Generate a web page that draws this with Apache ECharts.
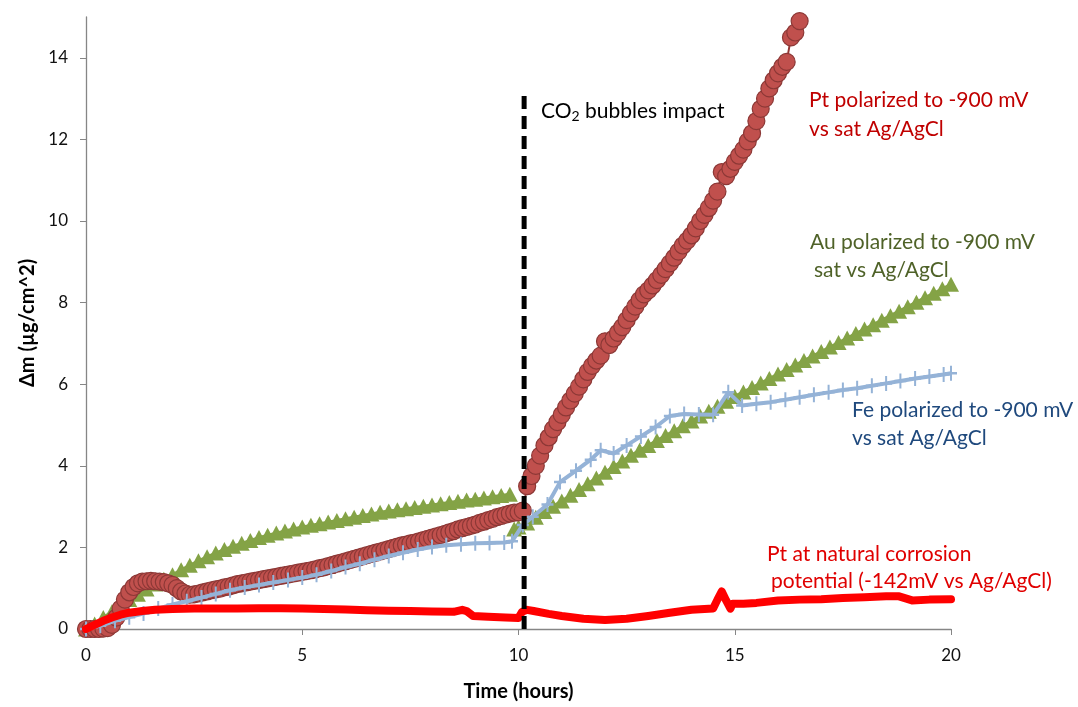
<!DOCTYPE html>
<html>
<head>
<meta charset="utf-8">
<script src="https://cdn.jsdelivr.net/npm/echarts@6/dist/echarts.min.js"></script>
<style>
  html, body { margin: 0; padding: 0; background: #ffffff; }
  #chart { width: 1078px; height: 707px; }
</style>
</head>
<body>
<div id="chart"></div>
<script>
// Mass change (µg/cm^2) against time (hours), [time, Δm] pairs

// Pt polarized to -900 mV (circles)
const ptPolarized = [
  [0.0,0.0],[0.1,0.0],[0.2,0.0],[0.3,0.0],[0.4,0.01],[0.5,0.02],[0.6,0.1],[0.7,0.28],[0.8,0.5],[0.9,0.72],
  [1.0,0.9],[1.1,1.03],[1.2,1.12],[1.3,1.16],[1.4,1.17],[1.5,1.18],[1.6,1.17],[1.7,1.16],[1.8,1.15],[1.9,1.12],
  [2.0,1.08],[2.1,1.0],[2.2,0.92],[2.3,0.87],[2.4,0.84],[2.5,0.85],[2.6,0.87],[2.7,0.9],[2.8,0.92],[2.9,0.95],
  [3.0,0.97],[3.1,0.99],[3.2,1.02],[3.3,1.04],[3.4,1.07],[3.5,1.1],[3.6,1.12],[3.7,1.14],[3.8,1.16],[3.9,1.18],
  [4.0,1.2],[4.1,1.22],[4.2,1.24],[4.3,1.26],[4.4,1.28],[4.5,1.3],[4.6,1.32],[4.7,1.34],[4.8,1.36],[4.9,1.38],
  [5.0,1.4],[5.1,1.42],[5.2,1.44],[5.3,1.46],[5.4,1.49],[5.5,1.51],[5.6,1.54],[5.7,1.57],[5.8,1.6],[5.9,1.63],
  [6.0,1.66],[6.1,1.69],[6.2,1.72],[6.3,1.75],[6.4,1.78],[6.5,1.81],[6.6,1.84],[6.7,1.87],[6.8,1.9],[6.9,1.93],
  [7.0,1.96],[7.1,1.99],[7.2,2.02],[7.3,2.05],[7.4,2.07],[7.5,2.1],[7.6,2.12],[7.7,2.15],[7.8,2.18],[7.9,2.21],
  [8.0,2.24],[8.1,2.27],[8.2,2.3],[8.3,2.33],[8.4,2.37],[8.5,2.4],[8.6,2.44],[8.7,2.47],[8.8,2.5],[8.9,2.53],
  [9.0,2.56],[9.1,2.6],[9.2,2.63],[9.3,2.67],[9.4,2.7],[9.5,2.74],[9.6,2.77],[9.7,2.8],[9.8,2.83],[9.9,2.85],
  [10.0,2.86],[10.1,2.9],
  [10.2,3.5],[10.3,3.75],[10.4,4.0],[10.5,4.25],[10.6,4.5],[10.7,4.7],[10.8,4.9],[10.9,5.07],[11.0,5.25],
  [11.1,5.43],[11.2,5.6],[11.3,5.77],[11.4,5.94],[11.5,6.12],[11.6,6.3],[11.7,6.45],[11.8,6.58],[11.9,6.7],
  [12.0,7.05],[12.1,6.96],[12.2,7.12],[12.3,7.26],[12.4,7.4],[12.5,7.57],[12.6,7.74],[12.7,7.9],[12.8,8.06],
  [12.9,8.2],[13.0,8.3],[13.1,8.42],[13.2,8.55],[13.3,8.68],[13.4,8.82],[13.5,8.96],[13.6,9.1],[13.7,9.25],
  [13.8,9.4],[13.9,9.52],[14.0,9.65],[14.1,9.82],[14.2,10.0],[14.3,10.15],[14.4,10.32],[14.5,10.5],[14.6,10.72],
  [14.7,11.2],[14.8,11.1],[14.9,11.28],[15.0,11.45],[15.1,11.6],[15.2,11.75],[15.3,11.95],[15.4,12.15],
  [15.5,12.45],[15.6,12.75],[15.7,13.0],[15.8,13.25],[15.9,13.45],[16.0,13.62],[16.1,13.78],[16.2,13.9],
  [16.3,14.5],[16.4,14.62],[16.5,14.9]
];

// Au polarized to -900 mV (triangles), before and after the bubble event
const auPolarizedA = [
  [0.0,0.0],[0.2,0.12],[0.4,0.28],[0.6,0.42],[0.8,0.58],[1.0,0.72],[1.2,0.85],[1.4,0.98],[1.6,1.1],[1.8,1.22],
  [2.0,1.33],[2.2,1.45],[2.4,1.56],[2.6,1.67],[2.8,1.77],[3.0,1.86],[3.2,1.95],[3.4,2.03],[3.6,2.1],[3.8,2.17],
  [4.0,2.24],[4.2,2.3],[4.4,2.35],[4.6,2.4],[4.8,2.45],[5.0,2.5],[5.2,2.54],[5.4,2.58],[5.6,2.62],[5.8,2.66],
  [6.0,2.7],[6.2,2.74],[6.4,2.78],[6.6,2.82],[6.8,2.86],[7.0,2.89],[7.2,2.92],[7.4,2.95],[7.6,2.98],[7.8,3.01],
  [8.0,3.04],[8.2,3.07],[8.4,3.1],[8.6,3.13],[8.8,3.16],[9.0,3.18],[9.2,3.21],[9.4,3.24],[9.6,3.27],[9.8,3.3]
];
const auPolarizedB = [
  [9.9,2.45],[10.0,2.5],[10.2,2.6],[10.4,2.74],[10.6,2.88],[10.8,3.01],[11.0,3.14],[11.2,3.28],[11.4,3.42],
  [11.6,3.56],[11.8,3.7],[12.0,3.84],[12.2,3.98],[12.4,4.12],[12.6,4.26],[12.8,4.38],[13.0,4.5],[13.2,4.62],
  [13.4,4.74],[13.6,4.86],[13.8,4.98],[14.0,5.1],[14.2,5.22],[14.4,5.34],[14.6,5.46],[14.8,5.58],[15.0,5.7],
  [15.2,5.81],[15.4,5.92],[15.6,6.03],[15.8,6.14],[16.0,6.25],[16.2,6.36],[16.4,6.47],[16.6,6.58],[16.8,6.69],
  [17.0,6.8],[17.2,6.91],[17.4,7.02],[17.6,7.13],[17.8,7.24],[18.0,7.35],[18.2,7.46],[18.4,7.57],[18.6,7.68],
  [18.8,7.79],[19.0,7.9],[19.2,8.01],[19.4,8.12],[19.6,8.23],[19.8,8.34],[20.0,8.45]
];

// Fe polarized to -900 mV (line with + markers)
const fePolarized = [
  [0.0,0.0],[0.33,0.08],[0.67,0.2],[1.0,0.29],[1.33,0.38],[1.67,0.5],[2.0,0.6],[2.33,0.68],[2.67,0.77],
  [3.0,0.86],[3.33,0.95],[3.67,1.02],[4.0,1.08],[4.33,1.14],[4.67,1.2],[5.0,1.26],[5.33,1.33],[5.67,1.42],
  [6.0,1.52],[6.33,1.6],[6.67,1.7],[7.0,1.79],[7.33,1.87],[7.67,1.95],[8.0,2.01],[8.33,2.05],[8.67,2.08],
  [9.0,2.1],[9.33,2.11],[9.67,2.12],[9.85,2.15],[10.1,2.55],[10.33,2.75],[10.67,3.05],[10.96,3.6],[11.33,3.88],
  [11.67,4.15],[11.9,4.38],[12.2,4.3],[12.5,4.5],[12.83,4.72],[13.17,4.95],[13.5,5.22],[13.83,5.27],
  [14.17,5.26],[14.5,5.25],[14.85,5.8],[15.17,5.48],[15.5,5.52],[15.83,5.56],[16.17,5.62],[16.5,5.68],
  [16.83,5.74],[17.17,5.8],[17.5,5.86],[17.83,5.9],[18.17,5.96],[18.5,6.02],[18.83,6.08],[19.17,6.14],
  [19.5,6.19],[19.83,6.24],[20.0,6.27]
];

// Pt at natural corrosion potential (thick red line)
const ptNatural = [
  [0,0],[0.2,0.1],[0.4,0.2],[0.6,0.28],[0.8,0.35],[1.0,0.4],[1.3,0.44],[1.6,0.47],[2.0,0.49],[2.5,0.5],
  [3.0,0.5],[3.5,0.5],[4.0,0.51],[4.5,0.51],[5.0,0.5],[5.5,0.49],[6.0,0.48],[6.5,0.46],[7.0,0.45],[7.5,0.44],
  [8.0,0.43],[8.5,0.42],[8.7,0.47],[8.8,0.44],[8.95,0.32],[9.3,0.3],[9.7,0.28],[10.0,0.27],[10.08,0.42],
  [10.2,0.47],[10.35,0.44],[10.7,0.37],[11.0,0.32],[11.5,0.25],[12.0,0.22],[12.5,0.25],[13.0,0.32],[13.5,0.4],
  [14.0,0.47],[14.5,0.5],[14.6,0.72],[14.7,0.92],[14.8,0.7],[14.9,0.5],[14.95,0.62],[15.2,0.62],[15.5,0.64],
  [16.0,0.7],[16.5,0.72],[17.0,0.73],[17.5,0.76],[18.0,0.78],[18.5,0.8],[18.8,0.8],[19.1,0.7],[19.5,0.72],
  [20.0,0.73]
];

// Time of the CO2 bubble event and height of its marker line
const bubbleEvent = [[10.13, 0], [10.13, 13.2]];

// Axis ticks
const xTicks = [0, 5, 10, 15, 20];
const yTicks = [0, 2, 4, 6, 8, 10, 12, 14];

const FONT = 'Lato, "Open Sans", sans-serif';
const chart = echarts.init(document.getElementById('chart'));

const plusSymbol = 'path://M5,0 L7,0 L7,5 L12,5 L12,7 L7,7 L7,12 L5,12 L5,7 L0,7 L0,5 L5,5 Z';
const labelFont = '21px ' + FONT;

chart.setOption({
  animation: false,
  backgroundColor: '#ffffff',
  grid: { left: 86, right: 127, top: 17, bottom: 78, containLabel: false },
  xAxis: {
    type: 'value', min: 0, max: 20, interval: 5,
    name: 'Time (hours)', nameLocation: 'middle', nameGap: 53,
    nameTextStyle: { fontFamily: FONT, fontSize: 20, fontWeight: 'bold', color: '#000' },
    axisLine: { lineStyle: { color: '#868686', width: 1.3 } },
    axisTick: { show: true, length: 6, lineStyle: { color: '#868686' }, customValues: xTicks },
    axisLabel: { fontFamily: FONT, fontSize: 17, color: '#111', margin: 18, customValues: xTicks },
    splitLine: { show: false }
  },
  yAxis: {
    type: 'value', min: 0, max: 15, interval: 1,
    name: 'Δm (µg/cm^2)', nameLocation: 'middle', nameGap: 46,
    nameTextStyle: { fontFamily: FONT, fontSize: 20, fontWeight: 'bold', color: '#000' },
    axisLine: { show: true, lineStyle: { color: '#868686', width: 1.3 } },
    axisTick: { show: true, length: 6, lineStyle: { color: '#868686' }, customValues: yTicks },
    axisLabel: { fontFamily: FONT, fontSize: 17, color: '#111', margin: 18, customValues: yTicks },
    splitLine: { show: false }
  },
  series: [
    {
      name: 'Au polarized A', type: 'line', data: auPolarizedA, z: 2,
      symbol: 'triangle', symbolSize: [16, 15],
      itemStyle: { color: '#84A346', borderWidth: 0 },
      lineStyle: { color: '#84A346', width: 3 }
    },
    {
      name: 'Au polarized B', type: 'line', data: auPolarizedB, z: 2,
      symbol: 'triangle', symbolSize: [16, 15],
      itemStyle: { color: '#84A346', borderWidth: 0 },
      lineStyle: { color: '#84A346', width: 3 }
    },
    {
      name: 'Pt polarized', type: 'line', data: ptPolarized, z: 3,
      symbol: 'circle', symbolSize: 17,
      itemStyle: { color: '#C0504D', borderColor: '#8C3836', borderWidth: 1.2 },
      lineStyle: { color: '#943634', width: 2 }
    },
    {
      name: 'Fe polarized', type: 'line', data: fePolarized, z: 4,
      symbol: plusSymbol, symbolSize: [12, 15],
      itemStyle: { color: '#95B3D7', borderWidth: 0 },
      lineStyle: { color: '#95B3D7', width: 4 }
    },
    {
      name: 'Pt natural', type: 'line', data: ptNatural, z: 5,
      symbol: 'none',
      lineStyle: { color: '#FF0000', width: 8, cap: 'round', join: 'round' }
    },
    {
      name: 'Bubble event', type: 'line', data: bubbleEvent, z: 6,
      symbol: 'none',
      lineStyle: { color: '#000000', width: 5, type: [13, 7] }
    }
  ],
  graphic: [
    {
      type: 'text', x: 541, y: 111, z: 10,
      style: {
        text: '{a|CO}{s|2}{a| bubbles impact}',
        verticalAlign: 'middle',
        rich: {
          a: { fontFamily: FONT, fontSize: 21, lineHeight: 24, fill: '#000' },
          s: { fontFamily: FONT, fontSize: 14, lineHeight: 11, verticalAlign: 'bottom', fill: '#000' }
        }
      }
    },
    { type: 'text', x: 809, y: 100, z: 10, style: { text: 'Pt polarized to -900 mV', font: labelFont, fill: '#C00000', verticalAlign: 'middle' } },
    { type: 'text', x: 809, y: 129, z: 10, style: { text: 'vs sat Ag/AgCl', font: labelFont, fill: '#C00000', verticalAlign: 'middle' } },
    { type: 'text', x: 810, y: 242, z: 10, style: { text: 'Au polarized to -900 mV', font: labelFont, fill: '#4F6228', verticalAlign: 'middle' } },
    { type: 'text', x: 814, y: 270, z: 10, style: { text: 'sat vs Ag/AgCl', font: labelFont, fill: '#4F6228', verticalAlign: 'middle' } },
    { type: 'text', x: 852, y: 410, z: 10, style: { text: 'Fe polarized to -900 mV', font: labelFont, fill: '#1F497D', verticalAlign: 'middle' } },
    { type: 'text', x: 852, y: 438, z: 10, style: { text: 'vs sat Ag/AgCl', font: labelFont, fill: '#1F497D', verticalAlign: 'middle' } },
    { type: 'text', x: 767, y: 554, z: 10, style: { text: 'Pt at natural corrosion', font: labelFont, fill: '#E00000', verticalAlign: 'middle' } },
    { type: 'text', x: 771, y: 581, z: 10, style: { text: 'potential (-142mV vs Ag/AgCl)', font: labelFont, fill: '#E00000', verticalAlign: 'middle' } }
  ]
});
</script>
</body>
</html>
